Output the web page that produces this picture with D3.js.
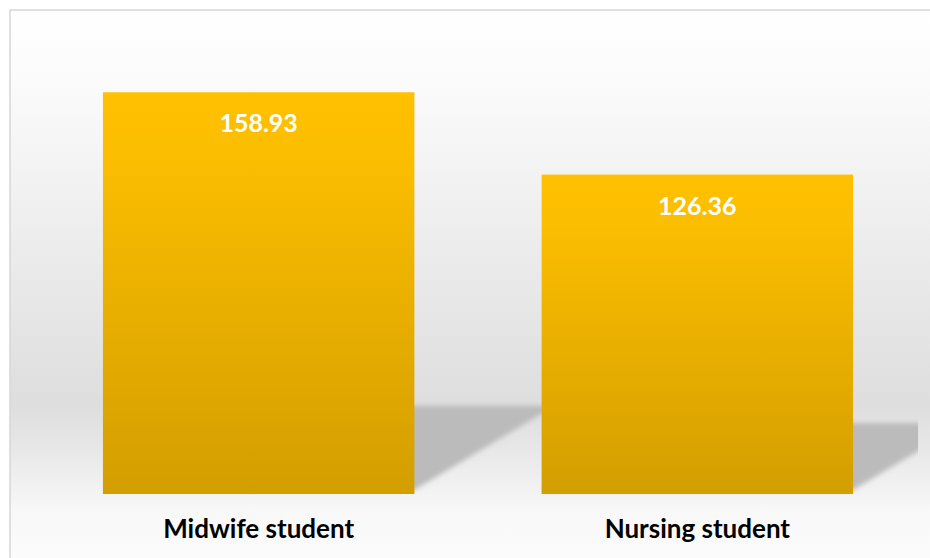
<!DOCTYPE html>
<html>
<head>
<meta charset="utf-8">
<script src="https://cdn.jsdelivr.net/npm/d3@7"></script>
<style>
  html, body { margin: 0; padding: 0; background: #ffffff; }
  svg { display: block; }
</style>
</head>
<body>
<div id="chart"></div>
<script>
// Mean scores by student group
const categories = ["Midwife student", "Nursing student"];
const values = [158.93, 126.36];
const valueLabels = ["158.93", "126.36"];

const W = 930, H = 558;
const svg = d3.select("#chart").append("svg")
  .attr("width", W).attr("height", H);

const defs = svg.append("defs");

// chart area background: light at top, grey band near the base, light again below
const bg = defs.append("linearGradient").attr("id", "bgGrad")
  .attr("x1", 0).attr("y1", 0).attr("x2", 0).attr("y2", 1);
[[0, "#ffffff"], [0.12, "#fbfbfb"], [0.69, "#dedede"], [0.76, "#e6e6e6"], [0.88, "#f8f8f8"], [1, "#fdfdfd"]]
  .forEach(([o, c]) => bg.append("stop").attr("offset", o).attr("stop-color", c));

// gold bar fill, darker toward the base
const barGrad = defs.append("linearGradient").attr("id", "barGrad")
  .attr("x1", 0).attr("y1", 0).attr("x2", 0).attr("y2", 1);
[[0, "#ffc000"], [0.15, "#fcbe00"], [1, "#d39e00"]]
  .forEach(([o, c]) => barGrad.append("stop").attr("offset", o).attr("stop-color", c));

const blur = defs.append("filter").attr("id", "shadowBlur")
  .attr("x", "-20%").attr("y", "-20%").attr("width", "140%").attr("height", "140%");
blur.append("feGaussianBlur").attr("stdDeviation", 2.8);

const x = d3.scaleBand()
  .domain(categories)
  .range([38, 918])
  .paddingInner(0.29)
  .paddingOuter(0.148);

const y = d3.scaleLinear()
  .domain([0, 180])
  .range([494, 39]);

defs.append("clipPath").attr("id", "plotClip")
  .append("rect").attr("x", 10).attr("y", 10).attr("width", 908).attr("height", 540);

// chart area with border (runs off the right edge)
svg.append("rect")
  .attr("x", 10).attr("y", 10)
  .attr("width", 940).attr("height", 570)
  .attr("fill", "url(#bgGrad)")
  .attr("stroke", "#d6d6d6")
  .attr("stroke-width", 1.5);

const data = categories.map((c, i) => ({ cat: c, value: values[i], label: valueLabels[i] }));

// perspective shadows cast behind each bar
const shadowScale = 0.21, shadowSkew = 0.35;
svg.append("g").attr("clip-path", "url(#plotClip)")
  .selectAll("path.shadow")
  .data(data)
  .join("path")
  .attr("class", "shadow")
  .attr("fill", "#bbbbbb")
  .attr("filter", "url(#shadowBlur)")
  .attr("d", d => {
    const x0 = x(d.cat), x1 = x0 + x.bandwidth();
    const base = y(0) - 4;
    const h = y(0) - y(d.value);
    const top = base - h * shadowScale;
    const dx = h * shadowSkew;
    return `M${x0},${base}L${x1},${base}L${x1 + dx},${top}L${x0 + dx},${top}Z`;
  });

// bars
svg.append("g")
  .selectAll("rect.bar")
  .data(data)
  .join("rect")
  .attr("class", "bar")
  .attr("x", d => x(d.cat))
  .attr("y", d => y(d.value))
  .attr("width", x.bandwidth())
  .attr("height", d => y(0) - y(d.value))
  .attr("fill", "url(#barGrad)");

// value labels inside the top of each bar
svg.append("g")
  .selectAll("text.value")
  .data(data)
  .join("text")
  .attr("class", "value")
  .attr("x", d => x(d.cat) + x.bandwidth() / 2)
  .attr("y", d => y(d.value) + 40)
  .attr("text-anchor", "middle")
  .attr("font-family", "Lato, 'Open Sans', sans-serif")
  .attr("font-weight", "bold")
  .attr("font-size", 25)
  .attr("fill", "#ffffff")
  .text(d => d.label);

// category axis labels
svg.append("g")
  .selectAll("text.cat")
  .data(data)
  .join("text")
  .attr("class", "cat")
  .attr("x", d => x(d.cat) + x.bandwidth() / 2)
  .attr("y", 538)
  .attr("text-anchor", "middle")
  .attr("font-family", "Lato, 'Open Sans', sans-serif")
  .attr("font-weight", "bold")
  .attr("font-size", 26)
  .attr("fill", "#000000")
  .text(d => d.cat);
</script>
</body>
</html>
